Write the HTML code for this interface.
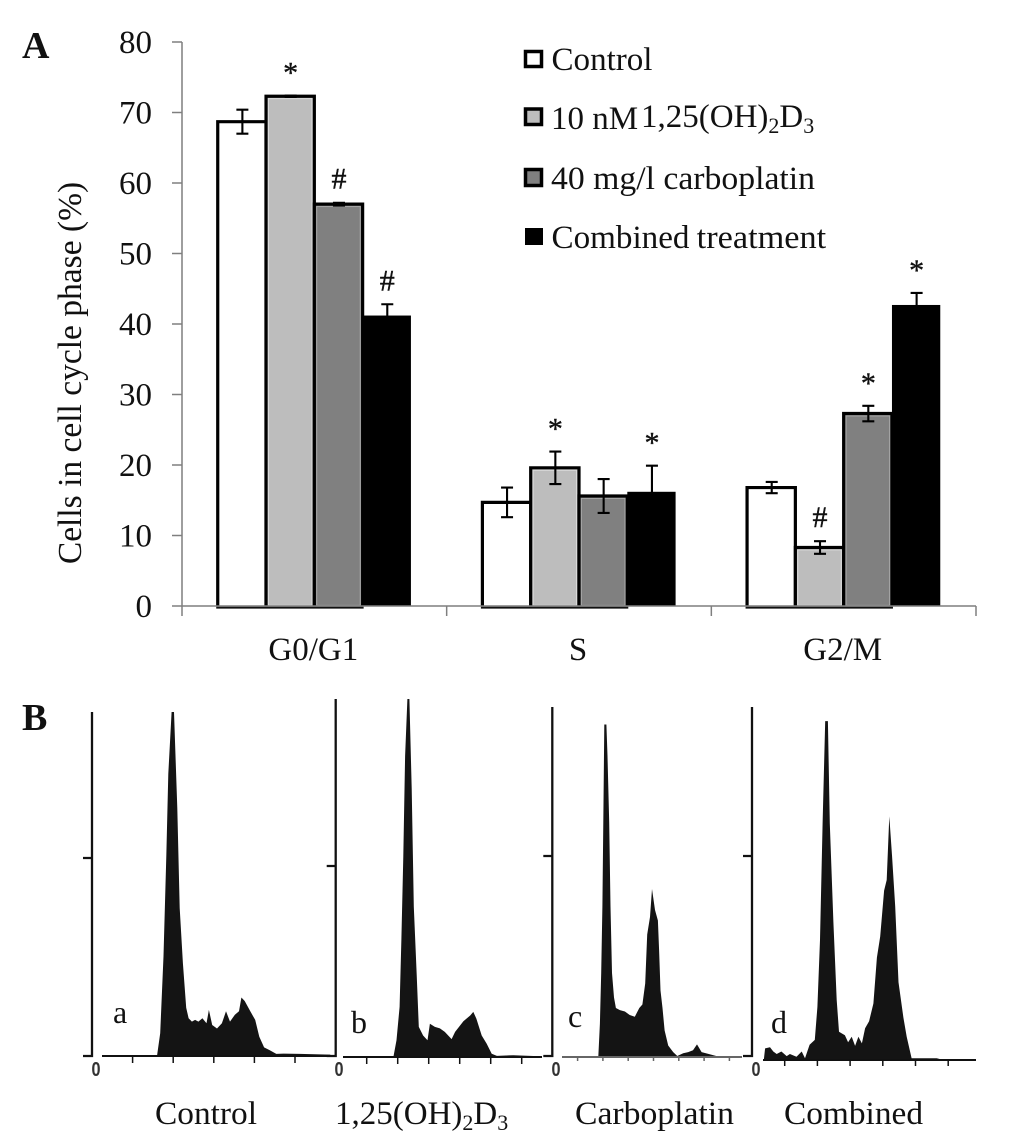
<!DOCTYPE html>
<html lang="en">
<head>
<meta charset="utf-8">
<title>Cell cycle phase distribution</title>
<style>
html,body{margin:0;padding:0;background:#fff}
svg{display:block}
text{font-family:"Liberation Serif",serif;fill:#111}
</style>
</head>
<body>
<svg id="figure" xmlns="http://www.w3.org/2000/svg" width="1033" height="1136" viewBox="0 0 1033 1136">
  <rect width="1033" height="1136" fill="#fff"/>
  <text x="22" y="58" font-size="38" font-weight="bold">A</text>
  <text x="22" y="730" font-size="38" font-weight="bold">B</text>
  <text transform="translate(81,373) rotate(-90)" text-anchor="middle" font-size="33.5">Cells in cell cycle phase (%)</text>

  <g font-size="33">
    <g>
      <rect x="525.5" y="51.5" width="16" height="15" fill="#fff" stroke="#000" stroke-width="3.5"/>
      <text x="551.5" y="70" textLength="101" lengthAdjust="spacingAndGlyphs">Control</text>
    </g>
    <g>
      <rect x="525.5" y="109" width="16" height="15.5" fill="#bdbdbd" stroke="#000" stroke-width="3.5"/>
      <text x="551" y="129">10 nM</text>
      <text x="641" y="127">1,25(OH)<tspan font-size="22" dy="6">2</tspan><tspan dy="-6">D</tspan><tspan font-size="22" dy="6">3</tspan></text>
    </g>
    <g>
      <rect x="525.5" y="169.5" width="16" height="16" fill="#808080" stroke="#000" stroke-width="3.5"/>
      <text x="551" y="189" textLength="264" lengthAdjust="spacingAndGlyphs">40 mg/l carboplatin</text>
    </g>
    <g>
      <rect x="525" y="228" width="18" height="17" fill="#000"/>
      <text x="551.5" y="248" textLength="138" lengthAdjust="spacingAndGlyphs">Combined</text>
      <text x="696.7" y="248" textLength="129.5" lengthAdjust="spacingAndGlyphs">treatment</text>
    </g>
  </g>

  <g font-size="33">
    <text x="155" y="1124" textLength="102" lengthAdjust="spacingAndGlyphs">Control</text>
    <text x="335" y="1124">1,25(OH)<tspan font-size="22" dy="6">2</tspan><tspan dy="-6">D</tspan><tspan font-size="22" dy="6">3</tspan></text>
    <text x="575" y="1124" textLength="159" lengthAdjust="spacingAndGlyphs">Carboplatin</text>
    <text x="784" y="1124" textLength="139" lengthAdjust="spacingAndGlyphs">Combined</text>
  </g>
</svg>
<script>
// Panel A data
const categories = ["G0/G1", "S", "G2/M"];
const seriesNames = ["control", "vitamin-d", "carboplatin", "combined"];
const controlValues = [68.7, 14.7, 16.8];
const vitaminDValues = [72.3, 19.6, 8.3];
const carboplatinValues = [57.0, 15.6, 27.3];
const combinedValues = [41.2, 16.2, 42.7];
const controlErrors = [1.7, 2.1, 0.8];
const vitaminDErrors = [0.1, 2.3, 0.9];
const carboplatinErrors = [0.2, 2.4, 1.1];
const combinedErrors = [1.6, 3.7, 1.7];
const controlMarks = ["", "", ""];
const vitaminDMarks = ["*", "*", "#"];
const carboplatinMarks = ["#", "", "*"];
const combinedMarks = ["#", "*", "*"];
const yTicks = [0, 10, 20, 30, 40, 50, 60, 70, 80];

// Panel B data: DNA histograms, channel (50 per axis tick) and relative count
const histATicks = [50, 100, 150, 200, 250];
const histAChannels = [80,84,88,91.5,94,98,101,105,108,112,116,119,123,127,131,136,141,144,148,154,160,165,170,176,181,184,188,195,201,206,212,219,227,236,256,293,297];
const histACounts = [0,6.6,29,58,82,100,100,72,43,27,14,11,10,10.5,10,11,9.5,13.4,9,8,9.5,13,10,12,13,17,16,13,10.5,5.6,2.5,1.7,0.6,0.7,0.6,0.4,0];
const histBTicks = [50, 100, 150, 200, 250, 300];
const histBChannels = [93,98,103,106,109,112,115.6,118.8,122.6,126,130.6,134,141,148,152,160,168,176,187,192.5,206,217,222,227,235.5,243.5,251.6,260,286.5,329.5];
const histBCounts = [0,4.7,14,33,56,84,100,100,75,42,23,8.4,6,4.7,9.3,8.4,8,7,5,7,10,11.6,12.6,10.7,6,3.7,0.9,0.3,0.5,0.2];
const histCTicks = [50, 100, 150, 200, 250, 300, 350];
const histCChannels = [91,94,96.6,99,100.7,102.7,107,109,112.5,115,118,122,125.7,133.6,143.4,153,163,172,178,183.6,187.5,193,197,203,208.6,211,213.9,217.8,222,229,239,247,258.6,268.5,278,286,295,311,324,370];
const histCCounts = [0,9.5,24,43,67,95,95,86,67,43,24,17,14,13.4,13,12,11.5,14,15,21,35,40,48,42,39,30.5,19,14,7.6,3.3,1.4,0.3,1.1,1.4,1.9,3.6,1.4,0.8,0.3,0.3];
const histDTicks = [50, 100, 150, 200, 250, 300];
const histDChannels = [18,20,27.5,32.6,37.7,45,53,58,68,76,81,88,96,100,104,108,112,116,119,124.5,129.5,133,142,147,152.5,157.6,162.7,168,173,179,185.6,191,196,202,206,210,214,219,224,231.5,236.6,244,252,282.5,292.7];
const histDCounts = [0,3.3,3.6,2.4,1.7,2.4,1.1,1.7,0.9,2.4,0.5,4.3,5.7,15,34,67,96,96,67,39,17,8,7,5,6.6,4,6.6,4.7,9,11,16,29,35,48,51,69,58,43.5,22,12,6.6,0.5,0.5,0.5,0];

const NS = "http://www.w3.org/2000/svg";
const svg = document.getElementById("figure");
function make(tag, parent, props) {
  const el = document.createElementNS(NS, tag);
  for (const k in props) el.setAttribute(k, props[k]);
  parent.appendChild(el);
  return el;
}

// Panel A scales
const plotLeft = 182, plotRight = 976, plotBase = 606, plotTop = 42;
const yScale = v => plotBase - (v / 80) * (plotBase - plotTop);
const bandWidth = (plotRight - plotLeft) / categories.length;
const barWidth = 48.3;
const groupCenter = i => plotLeft + bandWidth * (i + 0.5);
const barX = (i, s) => groupCenter(i) + (s - 2) * barWidth;

const seriesValues = [controlValues, vitaminDValues, carboplatinValues, combinedValues];
const seriesErrors = [controlErrors, vitaminDErrors, carboplatinErrors, combinedErrors];
const seriesMarks = [controlMarks, vitaminDMarks, carboplatinMarks, combinedMarks];
const seriesFills = ["#ffffff", "#bdbdbd", "#808080", "#000000"];
const seriesEdges = ["#ffffff", "#dcdcdc", "#a6a6a6", "#000000"];

const chart = make("g", svg, {});



seriesValues.forEach((vals, s) => {
  vals.forEach((v, i) => {
    const x = barX(i, s), top = yScale(v);
    const bar = make("rect", chart, {
      x: x, y: top, width: barWidth, height: plotBase - top, fill: seriesFills[s]
    });
    
    
    if (s > 0 && s < 3) {
      const glow = make("rect", chart, {
        x: x + 2.4, y: top + 2.4, width: barWidth - 4.8, height: Math.max(plotBase - top - 3, 0),
        fill: "none", stroke: seriesEdges[s], "stroke-width": 1
      });
      
      
    }
    if (s < 3) {
      const outline = make("path", chart, {
        d: "M" + x + " " + plotBase + "V" + top + "H" + (x + barWidth) + "V" + plotBase,
        fill: "none", stroke: "#000", "stroke-width": 3.2
      });
      
      
    }
  });
});

categories.forEach((c, i) => {
  const under = make("line", chart, {
    x1: barX(i, 0) - 1.5, x2: barX(i, 3) + 1, y1: 607.6, y2: 607.6, stroke: "#111", "stroke-width": 2
  });
  
  
});

seriesValues.forEach((vals, s) => {
  vals.forEach((v, i) => {
    const cx = barX(i, s) + barWidth / 2 + 0.5;
    const e = seriesErrors[s][i];
    const hi = yScale(v + e), lo = yScale(v - e);
    const err = make("path", chart, {
      d: "M" + (cx - 6) + " " + hi + "H" + (cx + 6) + "M" + cx + " " + hi + "V" + lo + "M" + (cx - 6) + " " + lo + "H" + (cx + 6),
      stroke: "#000", "stroke-width": 2.1, fill: "none"
    });
    
    
    const m = seriesMarks[s][i];
    if (m) {
      const t = make("text", chart, {
        x: cx, y: hi - (m === "*" ? 13 : 14), "text-anchor": "middle", "font-size": 30,
        stroke: "#111", "stroke-width": 0.4
      });
      t.textContent = m;
      
      
    }
  });
});

const yAxisLine = make("path", chart, {
  d: "M" + plotLeft + " " + plotTop + "V" + plotBase + "H" + plotRight, stroke: "#7f7f7f", "stroke-width": 1.5, fill: "none"
});



yTicks.forEach(v => {
  const tick = make("line", chart, {
    x1: plotLeft - 10, x2: plotLeft, y1: yScale(v), y2: yScale(v), stroke: "#7f7f7f", "stroke-width": 1.5
  });
  
  
  const label = make("text", chart, {
    x: plotLeft - 30, y: yScale(v) + 11, "text-anchor": "end", "font-size": 33
  });
  label.textContent = v;
  
  
});

for (let i = 0; i <= categories.length; i++) {
  const x = plotLeft + bandWidth * i;
  const tick = make("line", chart, {
    x1: x, x2: x, y1: plotBase, y2: plotBase + 10, stroke: "#7f7f7f", "stroke-width": 1.5
  });
  
  
}
categories.forEach((c, i) => {
  const label = make("text", chart, {
    x: groupCenter(i) - 1, y: 660, "text-anchor": "middle", "font-size": 33
  });
  label.textContent = c;
  
  
});

// Panel B histograms
function histogram(cfg, channels, counts, ticks) {
  const xScale = ch => cfg.axisX + (ch / 50) * cfg.tickGap;
  const yS = c => cfg.axisY - (c / 100) * (cfg.axisY - cfg.top);
  const g = make("g", svg, {});
  
  

  let d = "";
  channels.forEach((ch, i) => { d += (i ? "L" : "M") + xScale(ch).toFixed(1) + " " + yS(counts[i]).toFixed(1); });
  const last = channels[channels.length - 1];
  d += "L" + xScale(last).toFixed(1) + " " + cfg.axisY + "L" + xScale(channels[0]).toFixed(1) + " " + cfg.axisY + "Z";
  const area = make("path", g, { d: d, fill: "#141414" });
  
  

  const vAxis = make("path", g, {
    d: "M" + cfg.axisX + " " + cfg.top + "V" + cfg.base + "H" + (cfg.axisX - 9) + "M" + cfg.axisX + " " + cfg.mid + "H" + (cfg.axisX - 9),
    stroke: "#111", "stroke-width": 2.3, fill: "none"
  });
  
  

  const hAxis = make("line", g, {
    x1: cfg.hStart, x2: cfg.hEnd, y1: cfg.axisY, y2: cfg.axisY, stroke: cfg.axisColor, "stroke-width": 2
  });
  
  

  ticks.forEach(t => {
    const tick = make("line", g, {
      x1: xScale(t), x2: xScale(t), y1: cfg.axisY, y2: cfg.axisY + cfg.tickLen, stroke: cfg.axisColor, "stroke-width": 1.5
    });
    
    
  });

  const zero = make("text", g, { x: cfg.zeroX - 4.5, y: 1076, "font-size": 20, "font-weight": "bold", textLength: 9, lengthAdjust: "spacingAndGlyphs" });
  zero.style.fontFamily = '"Liberation Sans", sans-serif';
  zero.style.fill = "#333";
  zero.textContent = "0";
  
  

  const letter = make("text", g, { x: cfg.letterX, y: cfg.letterY, "font-size": 32 });
  letter.textContent = cfg.id;
  
  
}

histogram({ id: "a", axisX: 92, top: 712, base: 1056, mid: 858, tickGap: 40.6, axisY: 1056, hStart: 102, hEnd: 332, tickLen: 7, axisColor: "#111", zeroX: 96, letterX: 113, letterY: 1023 }, histAChannels, histACounts, histATicks);
histogram({ id: "b", axisX: 335.7, top: 699, base: 1056, mid: 866, tickGap: 31, axisY: 1057, hStart: 343, hEnd: 542, tickLen: 7, axisColor: "#111", zeroX: 339, letterX: 351, letterY: 1033 }, histBChannels, histBCounts, histBTicks);
histogram({ id: "c", axisX: 552.3, top: 707, base: 1056, mid: 856, tickGap: 25.3, axisY: 1057, hStart: 562, hEnd: 742, tickLen: 4, axisColor: "#666", zeroX: 556, letterX: 568, letterY: 1027 }, histCChannels, histCCounts, histCTicks);
histogram({ id: "d", axisX: 752, top: 707, base: 1056, mid: 856, tickGap: 32.7, axisY: 1060, hStart: 763, hEnd: 976, tickLen: 6, axisColor: "#111", zeroX: 756, letterX: 771, letterY: 1033 }, histDChannels, histDCounts, histDTicks);
</script>
</body>
</html>
